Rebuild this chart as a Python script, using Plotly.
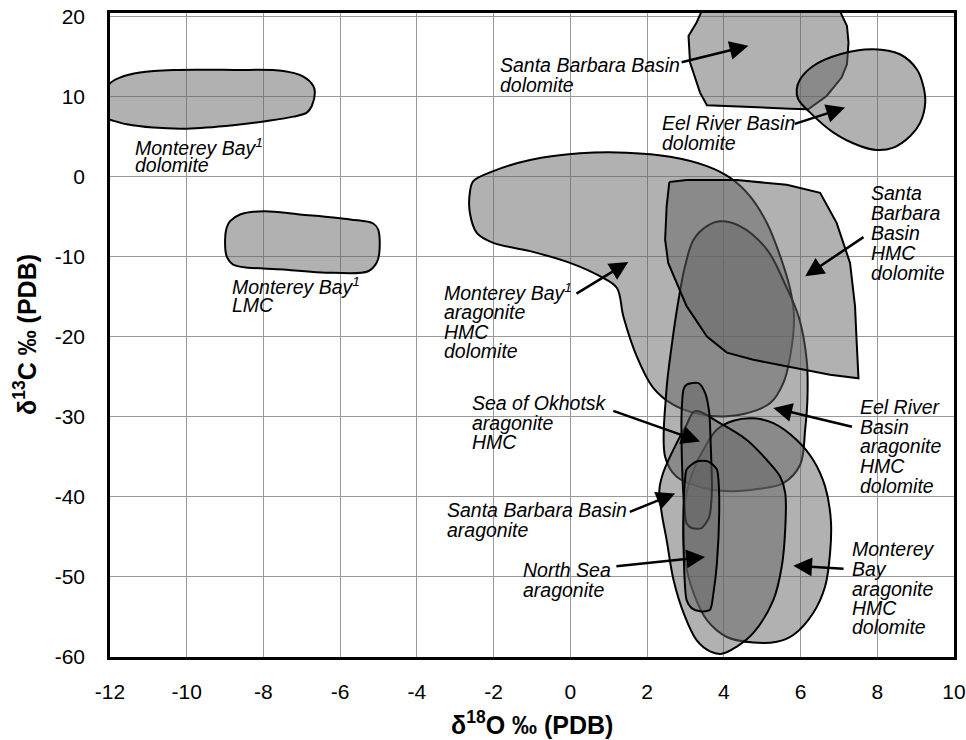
import plotly.graph_objects as go

# ---------------- data (delta18O, delta13C outlines) ----------------
mb_dol_x = [-12.3, -11.98, -11.74, -11.22, -10.35, -8.79, -7.48, -6.96, -6.70, -6.66, -6.74, -6.87, -7.22, -7.91, -8.79, -10.0, -10.87, -11.56, -11.98, -12.3]
mb_dol_y = [9.0, 11.71, 12.34, 12.96, 13.29, 13.29, 13.16, 12.46, 11.29, 10.46, 8.79, 7.96, 7.46, 6.91, 6.38, 5.96, 6.09, 6.5, 7.04, 7.5]

mb_lmc_x = [-8.87, -8.61, -8.00, -7.05, -5.74, -5.14, -5.01, -4.98, -5.05, -5.27, -6.18, -7.48, -8.79, -8.96, -9.00, -8.96]
mb_lmc_y = [-5.59, -4.75, -4.34, -4.75, -5.38, -5.88, -6.63, -9.54, -10.79, -11.84, -12.04, -11.63, -11.0, -9.96, -7.88, -6.41]

sbb_dol_x = [3.42, 7.03, 7.21, 7.25, 7.21, 7.07, 6.68, 6.20, 5.73, 3.56, 3.38, 3.12, 3.08, 3.29]
sbb_dol_y = [20.6, 20.6, 18.79, 16.71, 14.0, 12.34, 10.04, 8.38, 8.46, 8.88, 10.46, 14.21, 17.54, 19.21]

erb_dol_x = [5.90, 5.99, 6.33, 7.03, 7.90, 8.59, 9.03, 9.20, 9.25, 9.12, 8.86, 8.42, 7.99, 7.55, 6.86, 6.25, 5.94]
erb_dol_y = [10.88, 12.13, 13.79, 15.25, 15.88, 15.25, 13.38, 11.29, 9.21, 6.71, 5.04, 3.59, 3.29, 3.79, 5.46, 7.96, 9.63]

mb1_arag_x = [-2.62, -2.53, -2.01, -1.05, 0.25, 1.47, 2.60, 3.56, 4.16, 4.68, 5.12, 5.47, 5.73, 5.83, 5.73, 5.55, 5.21, 4.68, 3.99, 3.29, 2.68, 2.16, 1.73, 1.38, 1.21, 0.77, -0.01, -1.05, -2.01, -2.44, -2.62]
mb1_arag_y = [-2.04, -0.59, 0.66, 2.04, 2.88, 2.96, 2.46, 1.29, -0.16, -2.46, -5.79, -9.96, -14.1, -17.46, -22.46, -25.8, -28.3, -29.46, -29.96, -29.6, -28.5, -26.4, -22.46, -17.46, -13.9, -12.46, -10.79, -9.33, -8.29, -7.04, -4.54]

erb_arag_x = [3.90, 4.42, 5.12, 5.60, 5.95, 6.16, 6.18, 6.12, 5.99, 5.55, 4.94, 4.16, 3.47, 2.77, 2.47, 2.50, 2.64, 2.82, 2.99, 3.21, 3.56]
erb_arag_y = [-5.6, -6.2, -9.1, -13.5, -17.5, -22.9, -27.7, -31.6, -36.0, -38.3, -39.0, -39.3, -38.9, -37.5, -35.0, -27.0, -21.2, -15.4, -11.2, -7.9, -6.2]

sbb_hmc_x = [2.58, 3.03, 4.34, 5.64, 6.51, 6.94, 7.29, 7.42, 7.46, 7.51, 6.77, 5.64, 4.77, 4.08, 3.56, 3.03, 2.77, 2.55, 2.47, 2.51]
sbb_hmc_y = [-0.7, -0.45, -0.45, -1.05, -2.05, -5.8, -10.8, -16.2, -20.4, -25.2, -24.75, -23.7, -22.9, -22.0, -20.0, -16.2, -13.3, -10.8, -7.9, -3.7]

mb_arag_x = [3.47, 3.82, 4.25, 4.77, 5.29, 5.90, 6.33, 6.64, 6.79, 6.77, 6.64, 6.33, 5.81, 5.38, 4.77, 4.08, 3.56, 3.21, 2.99, 2.95, 3.03, 3.25]
mb_arag_y = [-34.1, -31.6, -30.5, -30.2, -30.8, -32.9, -35.4, -38.7, -42.9, -47.0, -51.2, -54.5, -57.25, -58.1, -58.2, -57.5, -55.4, -52.0, -47.9, -43.7, -39.5, -36.2]

sbb_arag_x = [3.25, 3.90, 4.60, 5.12, 5.47, 5.60, 5.60, 5.51, 5.29, 4.77, 4.34, 3.95, 3.64, 3.29, 2.95, 2.69, 2.51, 2.38, 2.32, 2.42, 2.77, 3.03]
sbb_arag_y = [-29.3, -30.8, -32.9, -35.4, -37.5, -39.5, -44.1, -48.7, -52.9, -57.0, -58.7, -59.6, -59.3, -57.9, -54.5, -50.4, -45.4, -42.0, -39.1, -37.0, -33.3, -31.0]

okh_x = [3.03, 3.34, 3.51, 3.62, 3.66, 3.69, 3.62, 3.42, 3.16, 3.03, 2.95, 2.90, 2.90, 2.95]
okh_y = [-26.0, -25.8, -27.0, -29.5, -33.7, -39.1, -42.5, -43.9, -43.9, -43.3, -40.0, -33.7, -29.5, -26.6]

ns_x = [3.03, 3.29, 3.60, 3.82, 3.86, 3.88, 3.82, 3.73, 3.64, 3.38, 3.16, 3.03, 2.95, 2.95, 2.99]
ns_y = [-36.6, -35.6, -35.6, -36.6, -37.9, -42.0, -48.3, -52.0, -54.1, -54.3, -53.9, -52.9, -46.2, -41.2, -37.9]

x_ticks = [-12, -10, -8, -6, -4, -2, 0, 2, 4, 6, 8, 10]
y_ticks = [-60, -50, -40, -30, -20, -10, 0, 10, 20]

# labels: lines, left x, middle y of each line
labels = [
    (["Monterey Bay<sup>1</sup>", "dolomite"], -11.40, [3.7, 1.45]),
    (["Monterey Bay<sup>1</sup>", "LMC"], -8.87, [-13.7, -16.1]),
    (["Santa Barbara Basin", "dolomite"], -1.88, [13.94, 11.44]),
    (["Eel River Basin", "dolomite"], 2.34, [6.65, 4.16]),
    (["Santa", "Barbara", "Basin", "HMC", "dolomite"], 7.79, [-2.1, -4.6, -7.1, -9.6, -12.1]),
    (["Monterey Bay<sup>1</sup>", "aragonite", "HMC", "dolomite"], -3.35, [-14.4, -16.9, -19.4, -21.8]),
    (["Sea of Okhotsk", "aragonite", "HMC"], -2.62, [-28.3, -30.8, -33.2]),
    (["Santa Barbara Basin", "aragonite"], -3.27, [-41.7, -44.2]),
    (["North Sea", "aragonite"], -1.29, [-49.1, -51.6]),
    (["Eel River", "Basin", "aragonite", "HMC", "dolomite"], 7.51, [-28.75, -31.25, -33.7, -36.1, -38.6]),
    (["Monterey", "Bay", "aragonite", "HMC", "dolomite"], 7.29, [-46.5, -49.0, -51.5, -53.9, -56.25]),
]

# arrows: (tail x, tail y, tip x, tip y)
arrows = [
    (2.86, 14.2, 4.64, 16.3),
    (5.81, 6.5, 7.16, 8.59),
    (7.68, -7.46, 6.12, -12.46),
    (0.12, -14.75, 1.51, -10.7),
    (1.08, -29.2, 3.38, -33.1),
    (1.51, -41.96, 2.73, -39.6),
    (1.16, -48.7, 3.51, -47.5),
    (7.38, -31.3, 5.29, -28.9),
    (7.16, -49.0, 5.81, -48.6),
]

FILL = "rgba(100,100,100,0.5)"
FONT = "Liberation Sans, Arial, Helvetica, sans-serif"

fig = go.Figure()

def add_region(xs, ys, shape="spline", smoothing=1.0):
    fig.add_trace(go.Scatter(
        x=xs + xs[:1], y=ys + ys[:1], mode="lines", fill="toself",
        fillcolor=FILL,
        line=dict(color="black", width=2, shape=shape, smoothing=smoothing),
        hoverinfo="skip", showlegend=False))

add_region(mb_dol_x, mb_dol_y)
add_region(mb_lmc_x, mb_lmc_y)
add_region(sbb_dol_x, sbb_dol_y, shape="linear")
add_region(erb_dol_x, erb_dol_y)
add_region(mb1_arag_x, mb1_arag_y)
add_region(erb_arag_x, erb_arag_y)
add_region(sbb_hmc_x, sbb_hmc_y, shape="linear")
add_region(mb_arag_x, mb_arag_y)
add_region(sbb_arag_x, sbb_arag_y)
add_region(okh_x, okh_y, smoothing=0.7)
add_region(ns_x, ns_y, smoothing=0.7)

annotations = []
for lines, lx, ys in labels:
    for t, ly in zip(lines, ys):
        annotations.append(dict(
            x=lx, y=ly, xref="x", yref="y", text="<i>" + t + "</i>",
            showarrow=False, xanchor="left", yanchor="middle",
            font=dict(family=FONT, size=19.5, color="black")))

for tx, ty, hx, hy in arrows:
    annotations.append(dict(
        x=hx, y=hy, ax=tx, ay=ty, xref="x", yref="y", axref="x", ayref="y",
        text="", showarrow=True, arrowhead=2, arrowsize=1.5, arrowwidth=2.5,
        arrowcolor="black"))

annotations.append(dict(
    x=0.5, y=-0.1025, xref="paper", yref="paper",
    text="<b>δ<sup>18</sup>O ‰ (PDB)</b>", showarrow=False,
    xanchor="center", yanchor="middle",
    font=dict(family=FONT, size=25, color="black")))
annotations.append(dict(
    x=-0.1007, y=0.5, xref="paper", yref="paper", textangle=-90,
    text="<b>δ<sup>13</sup>C ‰ (PDB)</b>", showarrow=False,
    xanchor="center", yanchor="middle",
    font=dict(family=FONT, size=25, color="black")))

fig.update_layout(
    template="none",
    width=966, height=740,
    margin=dict(l=110, r=12, t=13, b=83, autoexpand=False),
    paper_bgcolor="white", plot_bgcolor="white",
    annotations=annotations,
    xaxis=dict(range=[-12, 10], tickvals=x_ticks, ticktext=[str(v) for v in x_ticks],
               automargin=False,
               showgrid=True, gridcolor="#999999", gridwidth=1.3,
               zeroline=False, showline=True, linecolor="black", linewidth=2.5,
               mirror=True, ticks="outside", ticklen=14, tickcolor="rgba(0,0,0,0)",
               tickfont=dict(family=FONT, size=21, color="black")),
    yaxis=dict(range=[-60, 20.4], tickvals=y_ticks, ticktext=[str(v) for v in y_ticks],
               automargin=False,
               showgrid=True, gridcolor="#999999", gridwidth=1.3,
               zeroline=False, showline=True, linecolor="black", linewidth=2.5,
               mirror=True, ticks="outside", ticklen=18, tickcolor="rgba(0,0,0,0)",
               tickfont=dict(family=FONT, size=21, color="black")),
)

fig.write_html("out.html")
